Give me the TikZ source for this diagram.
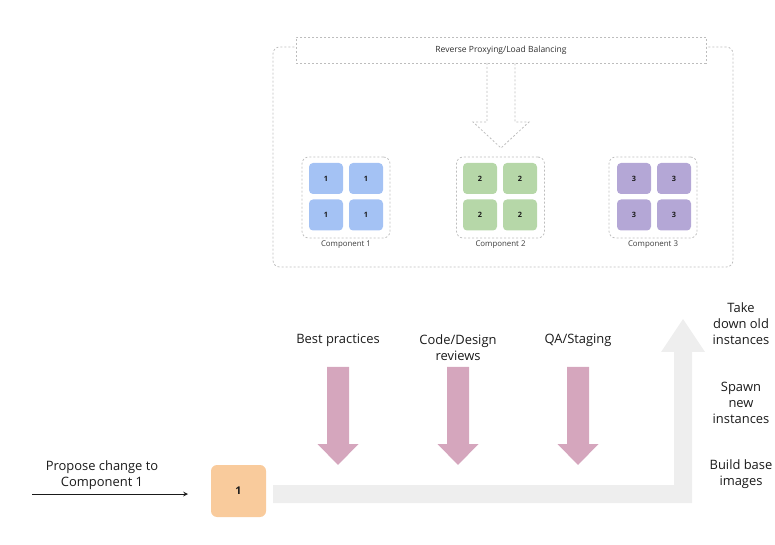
\documentclass[tikz,border=0pt]{standalone}
\usepackage{fontspec}
\setmainfont{Open Sans}
\definecolor{dashgray}{HTML}{BDBDBD}
\definecolor{tileblue}{HTML}{A4C2F4}
\definecolor{tilegreen}{HTML}{B6D7A8}
\definecolor{tilepurple}{HTML}{B4A7D6}
\definecolor{boxorange}{HTML}{F9CB9C}
\definecolor{arrowpink}{HTML}{D5A6BD}
\definecolor{bandgray}{HTML}{EEEEEE}
\definecolor{txt}{HTML}{1A1A1A}
\begin{document}
\begin{tikzpicture}[x=0.75pt,y=-0.75pt,
  dbox/.style={draw=dashgray, dash pattern=on 1.5pt off 1.5pt, line width=0.6pt},
  grp/.style={dbox, rounded corners=5pt, minimum width=66pt, minimum height=60.75pt, inner sep=0pt},
  tile/.style={rounded corners=3pt, minimum width=25.5pt, minimum height=23.25pt, inner sep=0pt, font=\fontsize{5.5}{6}\selectfont\bfseries, text=txt},
  glabel/.style={font=\fontsize{5.9}{6}\selectfont, text=txt!85},
  lbl/.style={font=\fontsize{9.7}{12}\selectfont, text=txt, align=center, inner sep=0pt},
  pinkarrow/.style={fill=arrowpink, draw=none}
]
\useasboundingbox (0,0) rectangle (775,545);

% outer container
\node[dbox, rounded corners=5pt, minimum width=345pt, minimum height=165pt, inner sep=0pt] (outer) at (503,157) {};
% top box
\node[dbox, fill=white, minimum width=307.5pt, minimum height=19.5pt, inner sep=0pt, font=\fontsize{6.4}{7}\selectfont, text=txt!90] (lb) at (501,50) {Reverse Proxying/Load Balancing};
% hollow dashed arrow
\draw[dbox] (487,63) -- (487,122) -- (473,122) -- (501,148) -- (529,122) -- (515,122) -- (515,63);

% component groups
\foreach \i/\cx/\lx/\rx/\col in {1/346/326/366/tileblue, 2/500.5/480/520/tilegreen, 3/653/634/674/tilepurple}{
  \node[grp] (g\i) at (\cx,197.5) {};
  \node[tile, fill=\col] (t\i a) at (\lx,178.5) {\i};
  \node[tile, fill=\col] (t\i b) at (\rx,178.5) {\i};
  \node[tile, fill=\col] (t\i c) at (\lx,215) {\i};
  \node[tile, fill=\col] (t\i d) at (\rx,215) {\i};
  \node[glabel] (gl\i) at (\cx,245) {Component \i};
}

% gray L-shaped arrow
\fill[bandgray] (273,485) -- (674,485) -- (674,352) -- (661,352) -- (683,319) -- (705,352) -- (692,352) -- (692,503) -- (273,503) -- cycle;

% pink arrows
\foreach \c in {338,458,578}{
  \fill[pinkarrow] (\c-11,367) -- (\c+11,367) -- (\c+11,444) -- (\c+20.5,444) -- (\c,465) -- (\c-20.5,444) -- (\c-11,444) -- cycle;
}

% labels
\node[lbl] (bp) at (338,340) {Best practices};
\node[lbl] (cd) at (458,348) {Code/Design\\reviews};
\node[lbl] (qa) at (578,340) {QA/Staging};
\node[lbl] (td) at (741,324) {Take\\down old\\instances};
\node[lbl] (sn) at (741,403) {Spawn\\new\\instances};
\node[lbl] (bb) at (741,474.5) {Build base\\images};
\node[lbl] (pc) at (102,475) {Propose change to\\Component 1};

% orange box
\node[fill=boxorange, rounded corners=4.5pt, minimum width=41.25pt, minimum height=39pt, inner sep=0pt, font=\fontsize{8}{9}\selectfont\bfseries, text=txt] (c1) at (238.5,491) {1};

% input arrow
\coordinate (s) at (32,494);
\coordinate (e) at (188,494);
\draw[-stealth, line width=0.6pt, txt] (s) -- (e);
\end{tikzpicture}
\end{document}
